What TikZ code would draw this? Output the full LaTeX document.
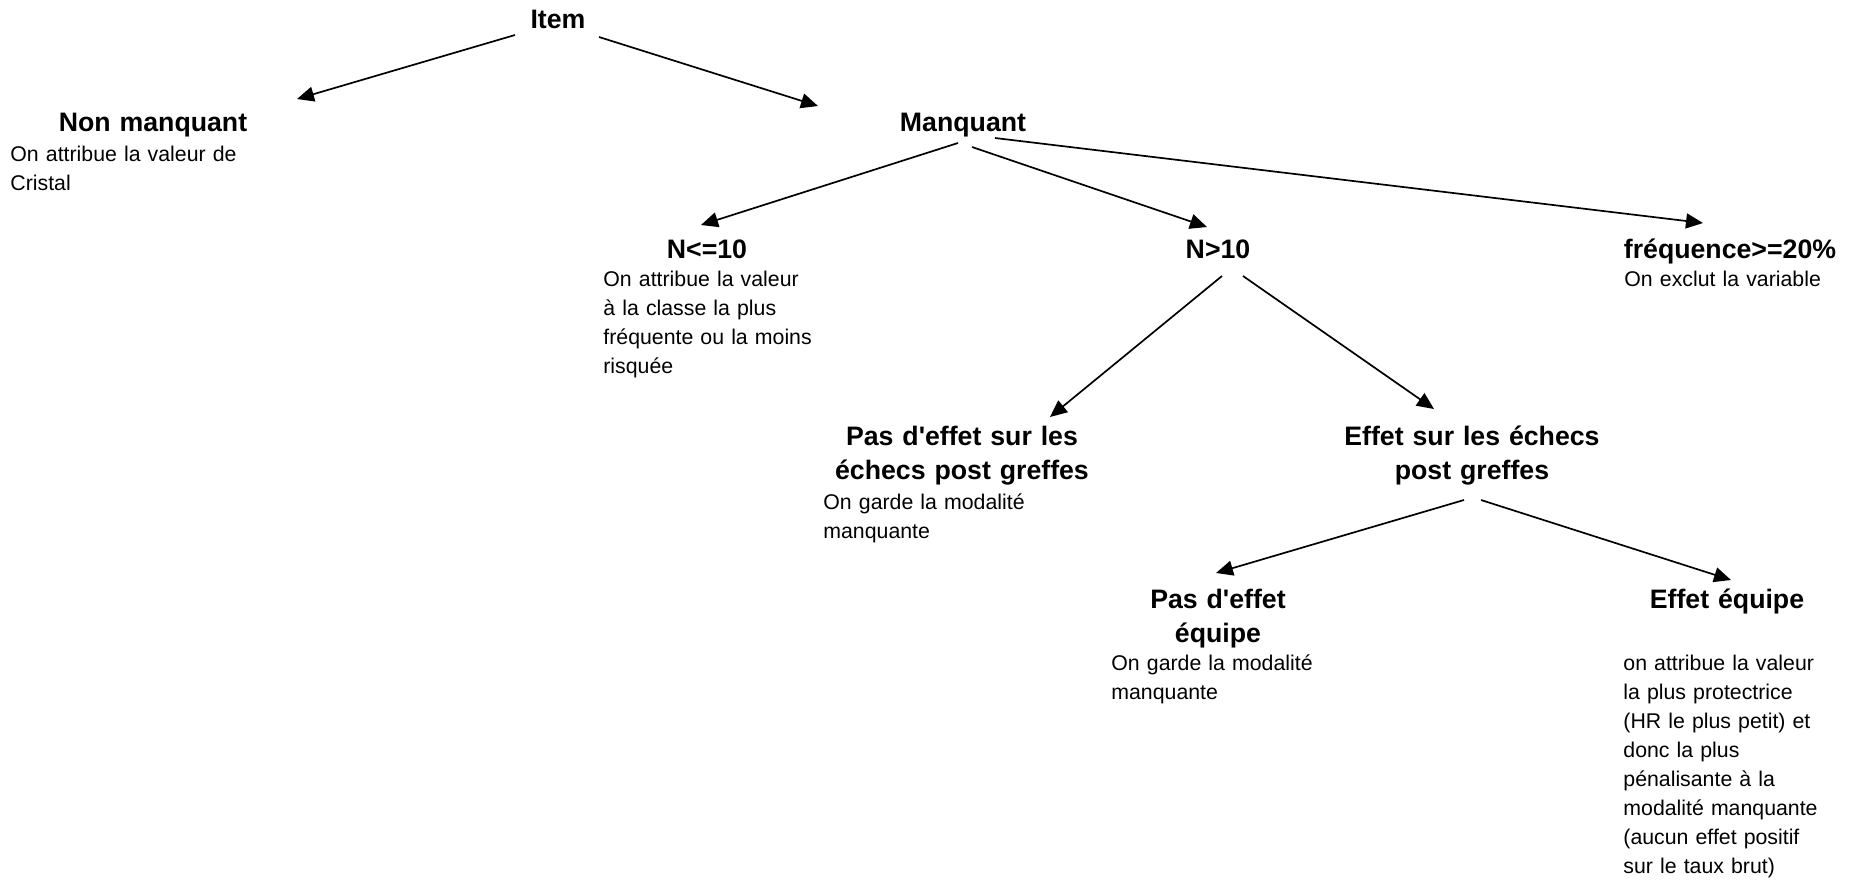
\documentclass[tikz,border=0pt]{standalone}
\usepackage{fontspec}
\setmainfont{Liberation Sans}
\usetikzlibrary{arrows.meta}
\begin{document}
\begin{tikzpicture}[x=0.5pt,y=-0.5pt,
  title/.style={font=\bfseries\fontsize{13.35pt}{17pt}\selectfont, text width=140pt, align=center, anchor=base, inner sep=0pt},
  desc/.style={font=\fontsize{10.65pt}{14.55pt}\selectfont, text width=130pt, align=left, anchor=base west, inner sep=0pt},
  arr/.style={line width=0.85pt, -{Triangle[length=8.5pt,width=7.5pt]}}]
\useasboundingbox (0,0) rectangle (1854,885);
\node[title] (item) at (558,28){Item};
\node[title] (nonmanq) at (153,131){Non manquant};
\node[desc] (nonmanqtxt) at (10,161){On attribue la valeur de\\Cristal};
\node[title] (manq) at (963,131){Manquant};
\node[title] (nlow) at (707,258){N<=10};
\node[desc] (nlowtxt) at (603,286){On attribue la valeur\\à la classe la plus\\fréquente ou la moins\\risquée};
\node[title] (nhigh) at (1218,258){N>10};
\node[title] (freq) at (1730,258){fréquence>=20\%};
\node[desc] (freqtxt) at (1624,286){On exclut la variable};
\node[title] (noeff) at (962,445){Pas d\textquotesingle effet sur les\\échecs post greffes};
\node[desc] (noefftxt) at (823,509){On garde la modalité\\manquante};
\node[title] (eff) at (1472,445){Effet sur les échecs\\post greffes};
\node[title] (noeffeq) at (1218,608){Pas d\textquotesingle effet\\équipe};
\node[desc] (noeffeqtxt) at (1111,670){On garde la modalité\\manquante};
\node[title] (effeq) at (1727,608){Effet équipe};
\node[desc] (effeqtxt) at (1623,670){on attribue la valeur\\la plus protectrice\\(HR le plus petit) et\\donc la plus\\pénalisante à la\\modalité manquante\\(aucun effet positif\\sur le taux brut)};
\draw[arr] ([shift={(-43,7)}]item.base) -- ([shift={(144,-32)}]nonmanq.base);
\draw[arr] ([shift={(41,9)}]item.base) -- ([shift={(-145,-25)}]manq.base);
\draw[arr] ([shift={(-5,12)}]manq.base) -- ([shift={(-6,-33)}]nlow.base);
\draw[arr] ([shift={(9,16)}]manq.base) -- ([shift={(-11,-31)}]nhigh.base);
\draw[arr] ([shift={(32,7)}]manq.base) -- ([shift={(-27,-35)}]freq.base);
\draw[arr] ([shift={(4,18)}]nhigh.base) -- ([shift={(88,-28)}]noeff.base);
\draw[arr] ([shift={(25,18)}]nhigh.base) -- ([shift={(-38,-36)}]eff.base);
\draw[arr] ([shift={(-8,55)}]eff.base) -- ([shift={(-2,-35)}]noeffeq.base);
\draw[arr] ([shift={(9,55)}]eff.base) -- ([shift={(4,-28)}]effeq.base);
\end{tikzpicture}
\end{document}
